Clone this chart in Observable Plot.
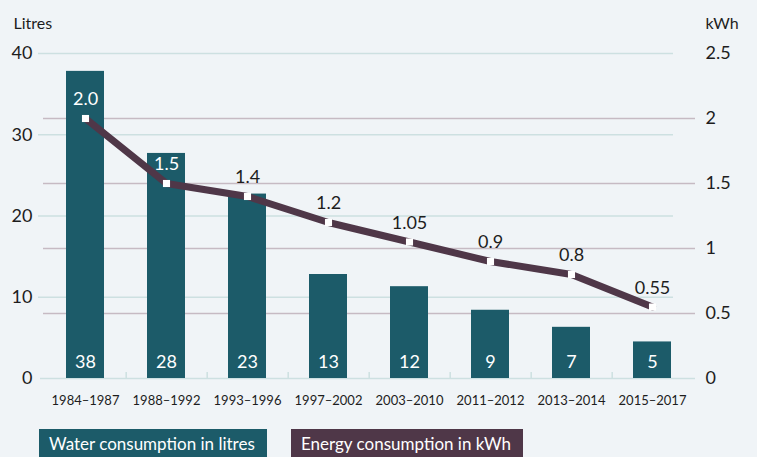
<!DOCTYPE html>
<html>
<head>
<meta charset="utf-8">
<script src="https://cdn.jsdelivr.net/npm/d3@7"></script>
<script src="https://cdn.jsdelivr.net/npm/@observablehq/plot@0.6"></script>
<style>
  html, body { margin: 0; padding: 0; background: #f0f4f7; }
  body { width: 757px; height: 457px; overflow: hidden; font-family: Lato, "Open Sans", sans-serif; }
  #legend { position: relative; height: 37px; }
  .lg { position: absolute; top: 9px; height: 32px; color: #fff; font-size: 17px; line-height: 30px; padding-left: 10px; box-sizing: border-box; white-space: nowrap; }
</style>
</head>
<body>
<div id="chart"></div>
<div id="legend">
  <div class="lg" style="left:39px;width:228px;background:#1c5b69">Water consumption in litres</div>
  <div class="lg" style="left:291px;width:232px;background:#4f3748">Energy consumption in kWh</div>
</div>
<script>
const periods = ["1984–1987","1988–1992","1993–1996","1997–2002","2003–2010","2011–2012","2013–2014","2015–2017"];
const waterLitres = [37.8, 27.7, 22.7, 12.8, 11.3, 8.4, 6.3, 4.5];
const waterLabels = ["38","28","23","13","12","9","7","5"];
const energyKWh = [2.0, 1.5, 1.4, 1.2, 1.05, 0.9, 0.8, 0.55];
const energyLabels = ["2.0","1.5","1.4","1.2","1.05","0.9","0.8","0.55"];
const leftTicks = [0, 10, 20, 30, 40];
const rightTicks = [0, 0.5, 1, 1.5, 2, 2.5];

const K = 16; // kWh -> litres axis factor (2.5 kWh == 40 L)
const rows = periods.map((p, i) => ({p, w: waterLitres[i], wl: waterLabels[i], e: energyKWh[i], el: energyLabels[i]}));

const teal = "#1c5b69", plum = "#4f3748", ink = "#1d1d1d";

const chart = Plot.plot({
  width: 757, height: 420,
  marginTop: 53, marginBottom: 42, marginLeft: 43, marginRight: 62,
  style: {background: "#f0f4f7", fontFamily: "Lato, 'Open Sans', sans-serif", color: ink},
  x: {domain: periods, paddingInner: 0.53, paddingOuter: 0.265, label: null},
  y: {domain: [0, 40], label: null},
  marks: [
    Plot.ruleY(leftTicks.slice(1), {stroke: "#cde0e1", strokeWidth: 1.5, insetLeft: -5, insetRight: 22}),
    Plot.ruleY(rightTicks.slice(1, -1).map(v => v * K), {stroke: "#c6bac3", strokeWidth: 1.5}),
    Plot.ruleY([0], {stroke: "#cde0e1", strokeWidth: 1.5, insetLeft: -3}),
    Plot.tickX(periods.slice(0, -1), {x: d => d, dx: 40.7, stroke: "#cde0e1", strokeWidth: 1.5, insetTop: 319, insetBottom: 0}),
    Plot.barY(rows, {x: "p", y: "w", fill: teal}),
    Plot.text(rows, {x: "p", y: 0, text: "wl", dy: -16, fill: "#fff", fontSize: 18}),
    Plot.line(rows, {x: "p", y: d => d.e * K, stroke: plum, strokeWidth: 7, strokeLinejoin: "miter"}),
    Plot.dot(rows, {x: "p", y: d => d.e * K, symbol: "square", r: 4, fill: "#fff", stroke: "none"}),
    Plot.text(rows, {x: "p", y: d => d.e * K, text: "el", dy: -19, fontSize: 18,
      fill: d => (d.e * K + 2.3 < d.w ? "#fff" : ink)}),
    Plot.axisY(leftTicks, {anchor: "left", tickSize: 0, tickPadding: 11, fontSize: 18, fill: ink}),
    Plot.axisY(rightTicks.map(v => v * K), {anchor: "right", tickSize: 0, tickPadding: 10, fontSize: 18, fill: ink,
      tickFormat: d => String(+(d / K).toFixed(2))}),
    Plot.axisX({tickSize: 0, tickPadding: 17, fontSize: 13, fill: ink}),
    Plot.text(["Litres"], {frameAnchor: "top-left", dx: -30, dy: -36, textAnchor: "start", fontSize: 16, fill: ink}),
    Plot.text(["kWh"], {frameAnchor: "top-right", dx: 10, dy: -36, textAnchor: "start", fontSize: 16, fill: ink})
  ]
});
document.getElementById("chart").appendChild(chart);
</script>
</body>
</html>
